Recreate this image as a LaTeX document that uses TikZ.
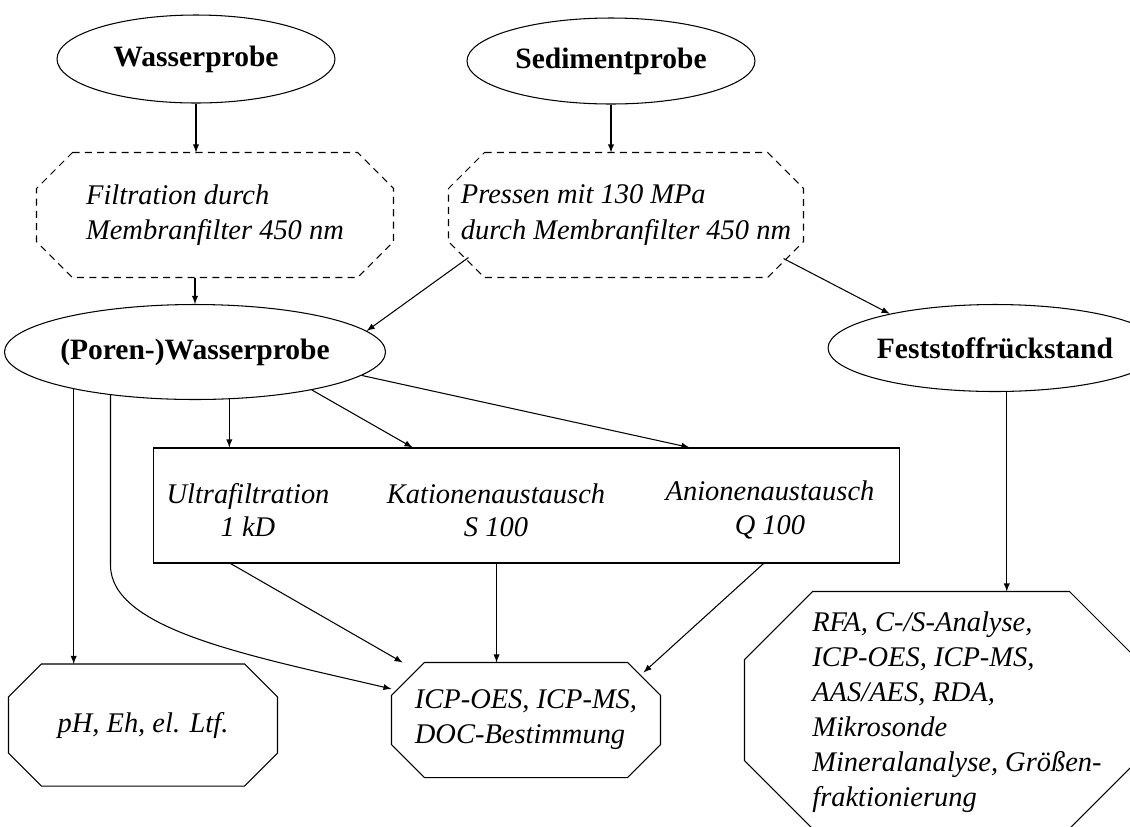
\documentclass[tikz,border=0pt]{standalone}
\usepackage{fontspec}
\setmainfont{Liberation Serif}
\usetikzlibrary{shapes.geometric, calc}

% Achteck um einen rechteckigen Knoten: [Stil]{Knoten}{Eckschnitt}
\newcommand{\achteck}[3][]{%
  \draw[#1] ([xshift=#3]#2.north west) -- ([xshift=-#3]#2.north east)
    -- ([yshift=-#3]#2.north east) -- ([yshift=#3]#2.south east)
    -- ([xshift=-#3]#2.south east) -- ([xshift=#3]#2.south west)
    -- ([yshift=#3]#2.south west) -- ([yshift=-#3]#2.north west) -- cycle;}

\begin{document}
\begin{tikzpicture}[>=latex, x=0.02cm, y=-0.02cm, line width=0.6pt,
    probe/.style={draw, ellipse, inner sep=0pt, font=\fontsize{16.8}{20}\selectfont\bfseries},
    schritt/.style={rectangle, inner sep=0pt, align=left, font=\fontsize{16.2}{20}\selectfont\itshape},
    gestrichelt/.style={dash pattern=on 4pt off 3pt},
    kasten/.style={draw, rectangle, inner sep=0pt},
    beschriftung/.style={align=center, font=\fontsize{16.2}{19}\selectfont\itshape}]
    \useasboundingbox (0,0) rectangle (1130,826);

    % 1. Ausgangsproben
    \node[probe, minimum width=5.56cm, minimum height=1.76cm] (wasser) at (196,59) {Wasserprobe};
    \node[probe, minimum width=5.76cm, minimum height=1.72cm] (sediment) at (611,61) {Sedimentprobe};

    % 2. Probenvorbereitung (gestrichelte Achtecke)
    \node[schritt, minimum width=7.12cm, minimum height=2.48cm] (filter) at (215,215)
        {Filtration durch\\Membranfilter 450 nm};
    \node[schritt, minimum width=7.08cm, minimum height=2.48cm] (pressen) at (626,215)
        {Pressen mit 130 MPa\\durch Membranfilter 450 nm};
    \achteck[gestrichelt]{filter}{0.72cm}
    \achteck[gestrichelt]{pressen}{0.72cm}

    % 3. Porenwasser und Feststoff
    \node[probe, minimum width=6.32cm, minimum height=1.9cm] (poren) at (195,352) {(Poren-)Wasserprobe};
    \node[probe, minimum width=5.4cm, minimum height=1.74cm] (fest) at (995,348) {Feststoffrückstand};

    % 4. Fraktionierung im Kasten
    \node[kasten, minimum width=14.94cm, minimum height=2.3cm] (fraktion) at (526.5,505.5) {};
    \node[beschriftung] (ultra) at (248,510) {Ultrafiltration\\1 kD};
    \node[beschriftung] (kation) at (496,510) {Kationenaustausch\\S 100};
    \node[beschriftung] (anion) at (770,510) {Anionenaustausch\\Q 100};

    % 5. Analytik
    \node[schritt, minimum width=5.36cm, minimum height=2.42cm] (vorort) at (143,725) {pH, Eh, el. Ltf.};
    \node[schritt, minimum width=5.36cm, minimum height=2.28cm] (icp) at (526,720)
        {ICP-OES, ICP-MS,\\DOC-Bestimmung};
    \node[schritt, minimum width=7.84cm, minimum height=4.72cm] (rfa) at (941,710) {};
    \node[schritt] (rfatext) at (957,712)
        {RFA, C-/S-Analyse,\\ICP-OES, ICP-MS,\\AAS/AES, RDA,\\Mikrosonde\\Mineralanalyse, Größen-\\fraktionierung};
    \achteck{vorort}{0.66cm}
    \achteck{icp}{0.66cm}
    \achteck{rfa}{1.36cm}

    % 6. Pfeile zwischen den Stufen
    \draw[->] (wasser.south) -- (wasser.south |- filter.north);
    \draw[->] (sediment.south) -- (sediment.south |- pressen.north);
    \draw[->] (poren.north |- filter.south) -- (poren.north);
    \draw[->] ([shift={(20,-20)}]pressen.south west) -- (poren.7);
    \draw[->] ([shift={(-20,-19)}]pressen.south east) -- (fest.162);

    % Porenwasser -> Fraktionierung
    \coordinate (k1) at ($(fraktion.north west)+(260,0)$);
    \coordinate (k2) at ($(fraktion.north west)+(537,0)$);
    \draw[->] (poren.-54) -- (poren.-54 |- fraktion.north);
    \draw[->] (poren.-18) -- (k1);
    \draw[->] (poren.-8) -- (k2);

    % Porenwasser -> Analytik
    \draw[->] (poren.197) -- (poren.197 |- vorort.north);
    \draw[->] (poren.207) -- ++(0,170) .. controls +(0,65) and +(-140,-33) .. (icp.167);

    % Fraktionierung -> Analytik
    \coordinate (u1) at ($(fraktion.south west)+(78,0)$);
    \coordinate (u2) at ($(fraktion.south west)+(344,0)$);
    \coordinate (u3) at ($(fraktion.south west)+(611,0)$);
    \draw[->] (u1) -- (icp.155);
    \draw[->] (u2) -- (u2 |- icp.north);
    \draw[->] (u3) -- ([shift={(-17,10)}]icp.north east);

    % Feststoff -> Analytik
    \draw[->] (fest.-75) -- (fest.-75 |- rfa.north);

\end{tikzpicture}
\end{document}
